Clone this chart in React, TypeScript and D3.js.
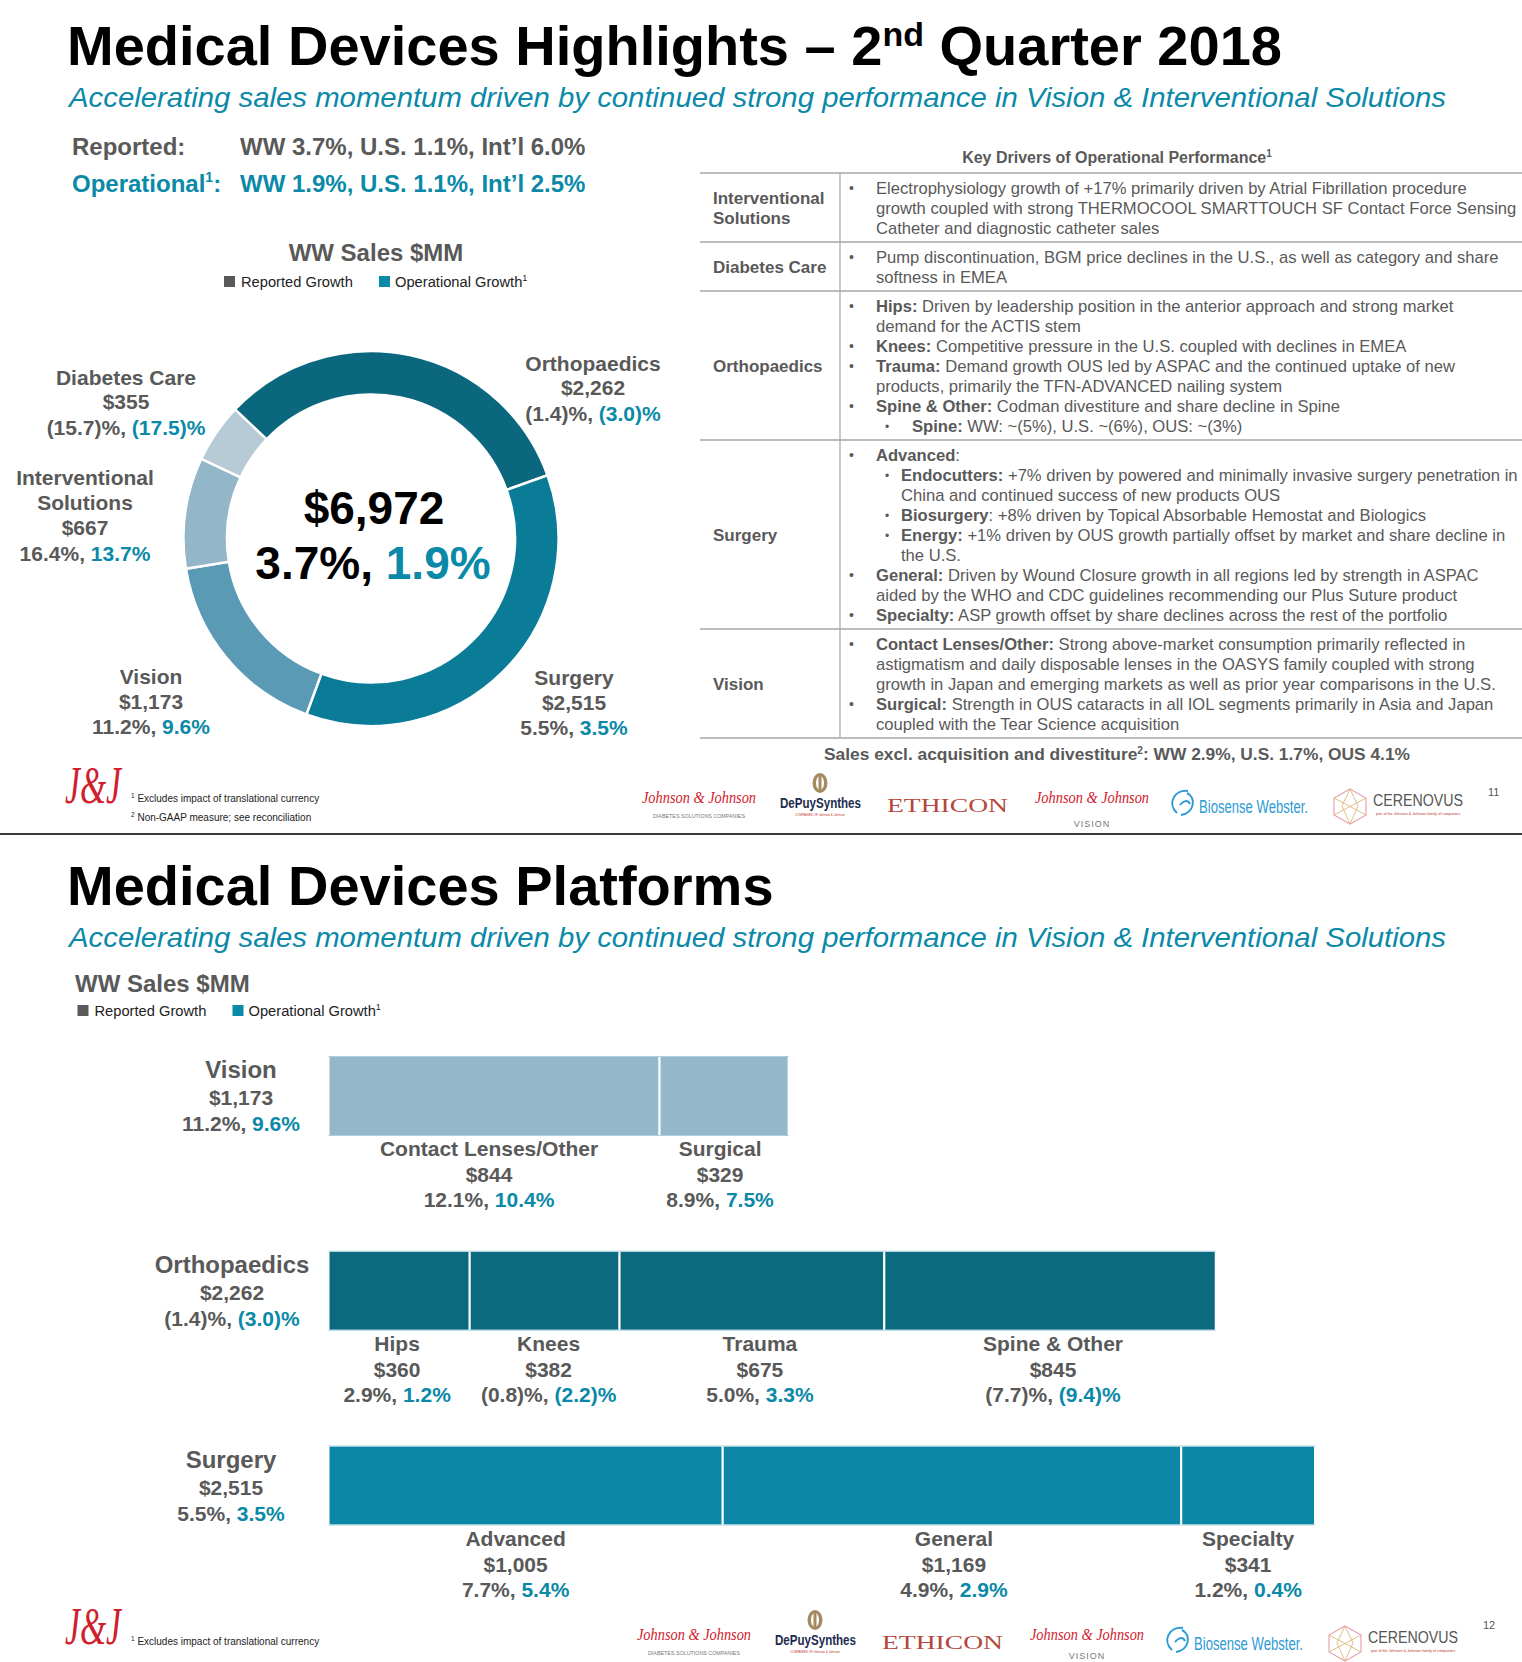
import React from 'react';
import * as d3 from 'd3';

const FONT = "'Liberation Sans', Arial, Helvetica, sans-serif";
const SERIF = "'Liberation Serif', 'DejaVu Serif', serif";
const GRAY = '#595959';
const TEAL = '#0a89a8';
const RED = '#d0202e';

// ---------------- data ----------------
const headlineRegions = ['WW', 'U.S.', 'Int\u2019l'];
const headlineReported = [3.7, 1.1, 6.0];
const headlineOperational = [1.9, 1.1, 2.5];
const exclRegions = ['WW', 'U.S.', 'OUS'];
const exclValues = [2.9, 1.7, 4.1];

const franchises = ['Orthopaedics', 'Surgery', 'Vision', 'Interventional Solutions', 'Diabetes Care'];
const franchiseSales = [2262, 2515, 1173, 667, 355];
const franchiseReported = [-1.4, 5.5, 11.2, 16.4, -15.7];
const franchiseOperational = [-3.0, 3.5, 9.6, 13.7, -17.5];
const totalSales = 6972;
const totalReported = 3.7;
const totalOperational = 1.9;

const platformGroups = ['Vision', 'Orthopaedics', 'Surgery'];
const groupSales = [1173, 2262, 2515];
const groupReported = [11.2, -1.4, 5.5];
const groupOperational = [9.6, -3.0, 3.5];

const visionPlatforms = ['Contact Lenses/Other', 'Surgical'];
const visionSales = [844, 329];
const visionReported = [12.1, 8.9];
const visionOperational = [10.4, 7.5];

const orthoPlatforms = ['Hips', 'Knees', 'Trauma', 'Spine & Other'];
const orthoSales = [360, 382, 675, 845];
const orthoReported = [2.9, -0.8, 5.0, -7.7];
const orthoOperational = [1.2, -2.2, 3.3, -9.4];

const surgeryPlatforms = ['Advanced', 'General', 'Specialty'];
const surgerySales = [1005, 1169, 341];
const surgeryReported = [7.7, 4.9, 1.2];
const surgeryOperational = [5.4, 2.9, 0.4];

type Run = { t: string; b?: boolean };
type TLine = { lvl: number; bullet: boolean; runs: Run[] };

const driverRowLabels: string[][] = [
  ['Interventional', 'Solutions'],
  ['Diabetes Care'],
  ['Orthopaedics'],
  ['Surgery'],
  ['Vision'],
];
const driverLines: TLine[][] = [
  [
    { lvl: 0, bullet: true, runs: [{ t: 'Electrophysiology growth of +17% primarily driven by Atrial Fibrillation procedure' }] },
    { lvl: 0, bullet: false, runs: [{ t: 'growth coupled with strong THERMOCOOL SMARTTOUCH SF Contact Force Sensing' }] },
    { lvl: 0, bullet: false, runs: [{ t: 'Catheter and diagnostic catheter sales' }] },
  ],
  [
    { lvl: 0, bullet: true, runs: [{ t: 'Pump discontinuation, BGM price declines in the U.S., as well as category and share' }] },
    { lvl: 0, bullet: false, runs: [{ t: 'softness in EMEA' }] },
  ],
  [
    { lvl: 0, bullet: true, runs: [{ t: 'Hips:', b: true }, { t: ' Driven by leadership position in the anterior approach and strong market' }] },
    { lvl: 0, bullet: false, runs: [{ t: 'demand for the ACTIS stem' }] },
    { lvl: 0, bullet: true, runs: [{ t: 'Knees:', b: true }, { t: ' Competitive pressure in the U.S. coupled with declines in EMEA' }] },
    { lvl: 0, bullet: true, runs: [{ t: 'Trauma:', b: true }, { t: ' Demand growth OUS led by ASPAC and the continued uptake of new' }] },
    { lvl: 0, bullet: false, runs: [{ t: 'products, primarily the TFN-ADVANCED nailing system' }] },
    { lvl: 0, bullet: true, runs: [{ t: 'Spine & Other:', b: true }, { t: ' Codman divestiture and share decline in Spine' }] },
    { lvl: 2, bullet: true, runs: [{ t: 'Spine:', b: true }, { t: ' WW: ~(5%), U.S. ~(6%), OUS: ~(3%)' }] },
  ],
  [
    { lvl: 0, bullet: true, runs: [{ t: 'Advanced', b: true }, { t: ':' }] },
    { lvl: 1, bullet: true, runs: [{ t: 'Endocutters:', b: true }, { t: ' +7% driven by powered and minimally invasive surgery penetration in' }] },
    { lvl: 1, bullet: false, runs: [{ t: 'China and continued success of new products OUS' }] },
    { lvl: 1, bullet: true, runs: [{ t: 'Biosurgery', b: true }, { t: ': +8% driven by Topical Absorbable Hemostat and Biologics' }] },
    { lvl: 1, bullet: true, runs: [{ t: 'Energy:', b: true }, { t: ' +1% driven by OUS growth partially offset by market and share decline in' }] },
    { lvl: 1, bullet: false, runs: [{ t: 'the U.S.' }] },
    { lvl: 0, bullet: true, runs: [{ t: 'General:', b: true }, { t: ' Driven by Wound Closure growth in all regions led by strength in ASPAC' }] },
    { lvl: 0, bullet: false, runs: [{ t: 'aided by the WHO and CDC guidelines recommending our Plus Suture product' }] },
    { lvl: 0, bullet: true, runs: [{ t: 'Specialty:', b: true }, { t: ' ASP growth offset by share declines across the rest of the portfolio' }] },
  ],
  [
    { lvl: 0, bullet: true, runs: [{ t: 'Contact Lenses/Other:', b: true }, { t: ' Strong above-market consumption primarily reflected in' }] },
    { lvl: 0, bullet: false, runs: [{ t: 'astigmatism and daily disposable lenses in the OASYS family coupled with strong' }] },
    { lvl: 0, bullet: false, runs: [{ t: 'growth in Japan and emerging markets as well as prior year comparisons in the U.S.' }] },
    { lvl: 0, bullet: true, runs: [{ t: 'Surgical:', b: true }, { t: ' Strength in OUS cataracts in all IOL segments primarily in Asia and Japan' }] },
    { lvl: 0, bullet: false, runs: [{ t: 'coupled with the Tear Science acquisition' }] },
  ],
];

// ---------------- styles / layout ----------------
const franchiseColors = ['#0b677e', '#0b7c98', '#5a9ab4', '#93b6c8', '#b6cbd5'];
const groupColors = ['#94b7c9', '#0b6a80', '#0b86a5'];
const donutNameLines: string[][] = [['Orthopaedics'], ['Surgery'], ['Vision'], ['Interventional', 'Solutions'], ['Diabetes Care']];
const donutLabelPos: [number, number][] = [[593, 370.5], [574, 685], [151, 684], [85, 485], [126, 384.5]];
const groupLabelX = [241, 232, 231];
const subLabelNudge: number[][] = [[-5, -4], [-2, 4, 8, 3], [-10, 2, 0]];

const pct = (v: number) => (v < 0 ? `(${Math.abs(v).toFixed(1)})%` : `${v.toFixed(1)}%`);
const usd = (v: number) => '$' + d3.format(',')(v);

function PctPair({ x, y, size, rep, op }: { x: number; y: number; size: number; rep: number; op: number }) {
  return (
    <text x={x} y={y} textAnchor="middle" fontFamily={FONT} fontWeight="bold" fontSize={size} fill={GRAY}>
      {`${pct(rep)}, `}
      <tspan fill={TEAL}>{pct(op)}</tspan>
    </text>
  );
}

function Legend({ x, y }: { x: number; y: number }) {
  return (
    <g fontFamily={FONT} fontSize={14.7} fill="#222">
      <rect x={x} y={y - 11} width={11} height={11} fill={GRAY} />
      <text x={x + 17} y={y}>Reported Growth</text>
      <rect x={x + 155} y={y - 11} width={11} height={11} fill={TEAL} />
      <text x={x + 171} y={y}>
        Operational Growth<tspan fontSize={9} dy={-6}>1</tspan>
      </text>
    </g>
  );
}

function Title({ y, children }: { y: number; children: React.ReactNode }) {
  return (
    <text x={67} y={y} fontFamily={FONT} fontWeight="bold" fontSize={56} fill="#000">
      {children}
    </text>
  );
}

function Subtitle({ y }: { y: number }) {
  return (
    <text x={69} y={y} fontFamily={FONT} fontStyle="italic" fontSize={28} fill={TEAL} textLength={1377} lengthAdjust="spacingAndGlyphs">
      Accelerating sales momentum driven by continued strong performance in Vision &amp; Interventional Solutions
    </text>
  );
}

function JJMark({ y }: { y: number }) {
  return (
    <text transform={`translate(65,${y}) scale(1,1.45)`} fontFamily={SERIF} fontStyle="italic" fontSize={36} fill={RED} textLength={56} lengthAdjust="spacingAndGlyphs">
      J&amp;J
    </text>
  );
}

function Logos({ dx, dy, page, visionY }: { dx: number; dy: number; page: string; visionY: number }) {
  return (
    <g transform={`translate(${dx},${dy})`}>
      {/* J&J Diabetes */}
      <text x={642} y={803} fontFamily={SERIF} fontStyle="italic" fontSize={17} fill={RED} textLength={114} lengthAdjust="spacingAndGlyphs">
        Johnson &amp; Johnson
      </text>
      <text x={699} y={818} textAnchor="middle" fontFamily={FONT} fontSize={5.5} fill="#777" textLength={92} lengthAdjust="spacingAndGlyphs">
        DIABETES SOLUTIONS COMPANIES
      </text>
      {/* DePuy Synthes */}
      <ellipse cx={820} cy={783} rx={7.5} ry={10} fill="#a58a5f" />
      <ellipse cx={820} cy={783} rx={4} ry={7} fill="#fff" />
      <rect x={818.5} y={776} width={3} height={14} fill="#a58a5f" />
      <text x={780} y={808} fontFamily={FONT} fontWeight="bold" fontSize={14} fill="#1d2b4f" textLength={81} lengthAdjust="spacingAndGlyphs">
        DePuySynthes
      </text>
      <text x={820} y={816} textAnchor="middle" fontFamily={FONT} fontSize={4} fill="#c0392b" textLength={50} lengthAdjust="spacingAndGlyphs">
        COMPANIES OF Johnson &amp; Johnson
      </text>
      {/* ETHICON */}
      <text x={887} y={812} fontFamily={SERIF} fontSize={19} fill="#b5473c" textLength={121} lengthAdjust="spacingAndGlyphs">
        ETHICON
      </text>
      {/* J&J Vision */}
      <text x={1035} y={803} fontFamily={SERIF} fontStyle="italic" fontSize={17} fill={RED} textLength={114} lengthAdjust="spacingAndGlyphs">
        Johnson &amp; Johnson
      </text>
      <text x={1092} y={visionY} textAnchor="middle" fontFamily={FONT} fontSize={9} fill="#777" letterSpacing={1}>
        VISION
      </text>
      {/* Biosense Webster */}
      <path d="M1177,813 C1167,804 1174,789 1188,791 M1181,815 C1194,813 1197,798 1187,793 M1180,805 C1184,800 1188,800 1190,804" stroke="#2d9ad5" strokeWidth={2} fill="none" />
      <text x={1199} y={813} fontFamily={FONT} fontSize={18} fill="#2d9ad5" textLength={109} lengthAdjust="spacingAndGlyphs">
        Biosense Webster.
      </text>
      {/* Cerenovus */}
      <polygon points="1350,789 1366,798 1366,815 1350,824 1334,815 1334,798" fill="none" stroke="#e8a1b0" strokeWidth={1.2} />
      <path d="M1350,789 L1342,806 L1350,824 L1358,806 Z M1334,798 L1366,815 M1366,798 L1334,815" fill="none" stroke="#dcb878" strokeWidth={0.9} />
      <text x={1373} y={806} fontFamily={FONT} fontSize={16} fill="#555" textLength={90} lengthAdjust="spacingAndGlyphs">
        CERENOVUS
      </text>
      <text x={1418} y={815} textAnchor="middle" fontFamily={FONT} fontSize={4} fill="#c0392b" textLength={84} lengthAdjust="spacingAndGlyphs">
        part of the Johnson &amp; Johnson family of companies
      </text>
      <text x={1488} y={796 - (page === '12' ? 4 : 0)} fontFamily={FONT} fontSize={11} fill="#555">
        {page}
      </text>
    </g>
  );
}

export default function App() {
  // donut
  const start = (-46.5 * Math.PI) / 180;
  const pie = d3
    .pie<number>()
    .sort(null)
    .value((d) => d)
    .startAngle(start)
    .endAngle(start + 2 * Math.PI);
  const arcs = pie(franchiseSales);
  const arcGen = d3.arc<d3.PieArcDatum<number>>().innerRadius(144).outerRadius(187.5);
  const cx = 371;
  const cy = 538.5;

  // table
  const rowTopStart = 173;
  const lineH = 20;
  const rowTops: number[] = [];
  let acc = rowTopStart;
  driverLines.forEach((ls) => {
    rowTops.push(acc);
    acc += ls.length * lineH + 9;
  });
  const tableBottom = acc;
  const bulletX = [849, 885, 885];
  const textX = [876, 901, 912];

  // bars
  const x = d3.scaleLinear().domain([0, d3.max(groupSales) as number]).range([328.5, 1315]);
  const yTop = d3.scalePoint<string>().domain(platformGroups).range([1056, 1445.5]);
  const barH = 80;
  const groupSubs = [
    { names: visionPlatforms, sales: visionSales, rep: visionReported, op: visionOperational },
    { names: orthoPlatforms, sales: orthoSales, rep: orthoReported, op: orthoOperational },
    { names: surgeryPlatforms, sales: surgerySales, rep: surgeryReported, op: surgeryOperational },
  ];

  return (
    <svg width={1522} height={1662} style={{ position: 'absolute', left: 0, top: 0, background: '#fff' }}>
      <rect x={0} y={0} width={1522} height={1662} fill="#fff" />

      {/* ================= Slide 1 ================= */}
      <Title y={65}>
        {'Medical Devices Highlights \u2013 2'}
        <tspan fontSize={34} dy={-19}>nd</tspan>
        <tspan dy={19}>{' Quarter 2018'}</tspan>
      </Title>
      <Subtitle y={107} />

      <g fontFamily={FONT} fontWeight="bold" fontSize={24}>
        <text x={72} y={155} fill={GRAY}>Reported:</text>
        <text x={240} y={155} fill={GRAY}>
          {headlineRegions.map((r, i) => `${r} ${pct(headlineReported[i])}`).join(', ')}
        </text>
        <text x={72} y={192} fill={TEAL}>
          Operational<tspan fontSize={14} dy={-10}>1</tspan>
          <tspan dy={10}>:</tspan>
        </text>
        <text x={240} y={192} fill={TEAL}>
          {headlineRegions.map((r, i) => `${r} ${pct(headlineOperational[i])}`).join(', ')}
        </text>
      </g>

      <text x={376} y={261} textAnchor="middle" fontFamily={FONT} fontWeight="bold" fontSize={24} fill={GRAY}>
        WW Sales $MM
      </text>
      <Legend x={224} y={287} />

      {/* donut */}
      <g transform={`translate(${cx},${cy})`}>
        {arcs.map((a, i) => (
          <path key={franchises[i]} d={arcGen(a) || ''} fill={franchiseColors[i]} stroke="#fff" strokeWidth={2.5} />
        ))}
      </g>
      <text x={374} y={524} textAnchor="middle" fontFamily={FONT} fontWeight="bold" fontSize={46} fill="#000">
        {usd(totalSales)}
      </text>
      <text x={373} y={579} textAnchor="middle" fontFamily={FONT} fontWeight="bold" fontSize={46} fill="#000">
        {`${pct(totalReported)}, `}
        <tspan fill={TEAL}>{pct(totalOperational)}</tspan>
      </text>

      {franchises.map((f, i) => {
        const [lx, ly] = donutLabelPos[i];
        const names = donutNameLines[i];
        const step = names.length > 1 ? 25 : 24.5;
        return (
          <g key={f}>
            {names.map((n, k) => (
              <text key={n} x={lx} y={ly + k * step} textAnchor="middle" fontFamily={FONT} fontWeight="bold" fontSize={21} fill={GRAY}>
                {n}
              </text>
            ))}
            <text x={lx} y={ly + names.length * step} textAnchor="middle" fontFamily={FONT} fontWeight="bold" fontSize={21} fill={GRAY}>
              {usd(franchiseSales[i])}
            </text>
            <PctPair x={lx} y={ly + (names.length + 1) * step + 1} size={21} rep={franchiseReported[i]} op={franchiseOperational[i]} />
          </g>
        );
      })}

      {/* key drivers table */}
      <text x={1117} y={163} textAnchor="middle" fontFamily={FONT} fontWeight="bold" fontSize={16} fill={GRAY}>
        Key Drivers of Operational Performance<tspan fontSize={10} dy={-6}>1</tspan>
      </text>
      {rowTops.map((t, i) => (
        <line key={'h' + i} x1={700} x2={1522} y1={t} y2={t} stroke="#a6a6a6" strokeWidth={1.5} />
      ))}
      <line x1={700} x2={1522} y1={tableBottom} y2={tableBottom} stroke="#a6a6a6" strokeWidth={1.5} />
      <line x1={840} x2={840} y1={rowTopStart} y2={tableBottom} stroke="#a6a6a6" strokeWidth={1.2} />
      {driverLines.map((ls, r) => {
        const top = rowTops[r];
        const h = ls.length * lineH + 9;
        const labels = driverRowLabels[r];
        const mid = top + h / 2 + 6 - ((labels.length - 1) * 20) / 2;
        return (
          <g key={'row' + r} fontFamily={FONT} fill={GRAY}>
            {labels.map((l, k) => (
              <text key={l} x={713} y={mid + k * 20} fontWeight="bold" fontSize={17}>
                {l}
              </text>
            ))}
            {ls.map((ln, k) => {
              const by = top + 21 + k * lineH;
              return (
                <g key={k}>
                  {ln.bullet && (
                    <text x={bulletX[ln.lvl]} y={by - 1} fontSize={ln.lvl === 0 ? 14 : 12}>
                      •
                    </text>
                  )}
                  <text x={textX[ln.lvl]} y={by} fontSize={16.6} style={{ whiteSpace: 'pre' }}>
                    {ln.runs.map((run, j) => (
                      <tspan key={j} fontWeight={run.b ? 'bold' : 'normal'}>
                        {run.t}
                      </tspan>
                    ))}
                  </text>
                </g>
              );
            })}
          </g>
        );
      })}
      <text x={1117} y={760} textAnchor="middle" fontFamily={FONT} fontWeight="bold" fontSize={17} fill={GRAY} textLength={586} lengthAdjust="spacingAndGlyphs">
        Sales excl. acquisition and divestiture<tspan fontSize={10} dy={-6}>2</tspan>
        <tspan dy={6}>{': ' + exclRegions.map((r, i) => `${r} ${pct(exclValues[i])}`).join(', ')}</tspan>
      </text>

      {/* footer 1 */}
      <JJMark y={803} />
      <g fontFamily={FONT} fontSize={10} fill="#222">
        <text x={131} y={802}>
          <tspan fontSize={6.5} dy={-4}>1</tspan>
          <tspan dy={4}> Excludes impact of translational currency</tspan>
        </text>
        <text x={131} y={821}>
          <tspan fontSize={6.5} dy={-4}>2</tspan>
          <tspan dy={4}> Non-GAAP measure; see reconciliation</tspan>
        </text>
      </g>
      <Logos dx={0} dy={0} page="11" visionY={827} />
      <line x1={0} x2={1522} y1={834} y2={834} stroke="#3a3a3a" strokeWidth={2} />

      {/* ================= Slide 2 ================= */}
      <Title y={905}>Medical Devices Platforms</Title>
      <Subtitle y={947} />
      <text x={75} y={992} fontFamily={FONT} fontWeight="bold" fontSize={24} fill={GRAY}>
        WW Sales $MM
      </text>
      <Legend x={77.5} y={1016} />

      {platformGroups.map((g, gi) => {
        const top = yTop(g) as number;
        const sub = groupSubs[gi];
        let cum = 0;
        const segs = sub.sales.map((v) => {
          const s = { x0: x(cum), x1: x(cum + v) };
          cum += v;
          return s;
        });
        const lx = groupLabelX[gi];
        return (
          <g key={g}>
            {segs.map((s, si) => (
              <rect key={si} x={s.x0} y={top} width={s.x1 - s.x0} height={barH} fill={groupColors[gi]} stroke="#fff" strokeWidth={2} />
            ))}
            <line x1={x(0)} x2={x(groupSales[gi])} y1={top + 0.5} y2={top + 0.5} stroke="#a9d2de" strokeWidth={1.2} />
            <line x1={x(0)} x2={x(groupSales[gi])} y1={top + barH - 0.5} y2={top + barH - 0.5} stroke="#a9d2de" strokeWidth={1.2} />
            <text x={lx} y={top + 22} textAnchor="middle" fontFamily={FONT} fontWeight="bold" fontSize={24} fill={GRAY}>
              {g}
            </text>
            <text x={lx} y={top + 49} textAnchor="middle" fontFamily={FONT} fontWeight="bold" fontSize={21} fill={GRAY}>
              {usd(groupSales[gi])}
            </text>
            <PctPair x={lx} y={top + 75} size={21} rep={groupReported[gi]} op={groupOperational[gi]} />
            {segs.map((s, si) => {
              const mx = (s.x0 + s.x1) / 2 + subLabelNudge[gi][si];
              const by = top + barH;
              return (
                <g key={'l' + si}>
                  <text x={mx} y={by + 20} textAnchor="middle" fontFamily={FONT} fontWeight="bold" fontSize={21} fill={GRAY}>
                    {sub.names[si]}
                  </text>
                  <text x={mx} y={by + 46} textAnchor="middle" fontFamily={FONT} fontWeight="bold" fontSize={21} fill={GRAY}>
                    {usd(sub.sales[si])}
                  </text>
                  <PctPair x={mx} y={by + 71} size={21} rep={sub.rep[si]} op={sub.op[si]} />
                </g>
              );
            })}
          </g>
        );
      })}

      {/* footer 2 */}
      <JJMark y={1644} />
      <text x={131} y={1645} fontFamily={FONT} fontSize={10} fill="#222">
        <tspan fontSize={6.5} dy={-4}>1</tspan>
        <tspan dy={4}> Excludes impact of translational currency</tspan>
      </text>
      <Logos dx={-5} dy={837} page="12" visionY={822} />
    </svg>
  );
}
